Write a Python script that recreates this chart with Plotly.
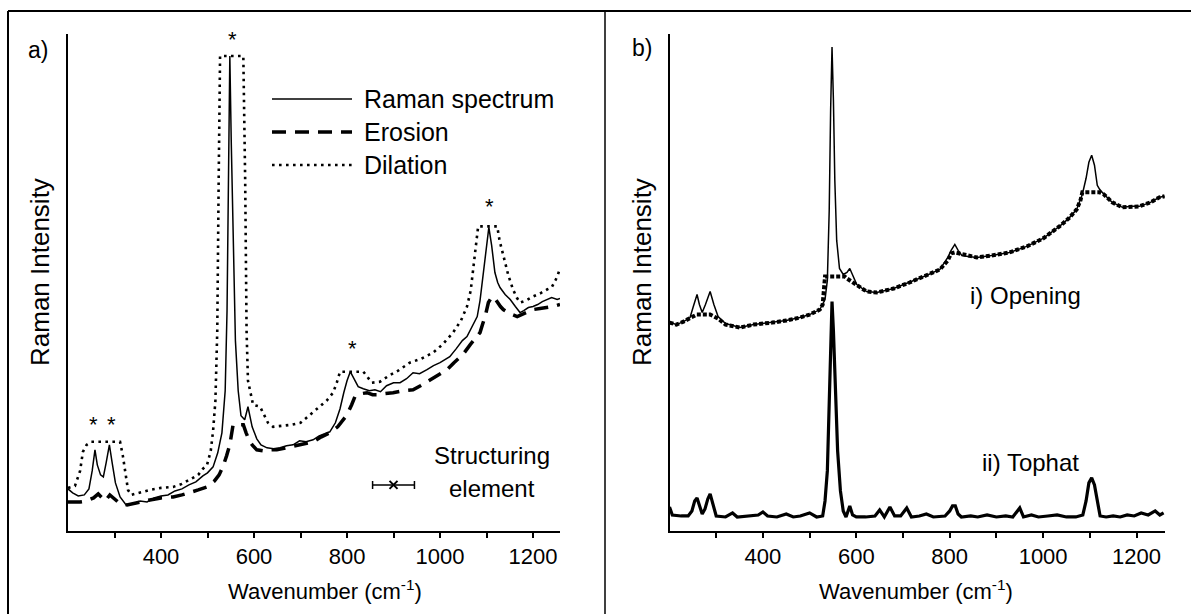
import plotly.graph_objects as go

# ---- panel a) : Raman spectrum with its erosion and dilation
raman_a_wn = [200, 210, 222, 235, 245, 252, 258, 263, 270, 276, 282, 289, 295, 302, 312, 325, 340, 355, 370, 385,
              400, 415, 430, 445, 460, 475, 490, 500, 512, 522, 531, 538, 542, 545, 548, 551, 555, 560, 566, 572,
              580, 587, 596, 606, 615, 628, 642, 656, 670, 684, 698, 712, 727, 740, 752, 763, 775, 785, 793, 800,
              807, 815, 824, 835, 848, 860, 872, 885, 900, 914, 928, 942, 956, 972, 986, 1000, 1010, 1021, 1035, 1048,
              1058, 1068, 1080, 1086, 1092, 1098, 1105, 1111, 1118, 1124, 1129, 1140, 1151, 1162, 1172, 1180, 1190, 1200, 1210, 1220,
              1230, 1240, 1252, 1258]
raman_a = [42, 38, 35, 36, 42, 60, 81, 66, 56, 54, 68, 86, 68, 48, 34, 26, 27, 30, 29, 33,
           35, 36, 40, 42, 46, 49, 55, 58, 64, 78, 98, 140, 220, 350, 474, 390, 310, 190, 140, 115,
           111, 124, 104, 92, 86, 83, 82, 83, 85, 86, 90, 89, 91, 95, 97, 99, 108, 122, 138, 150,
           159, 152, 144, 142, 140, 141, 139, 145, 148, 148, 152, 158, 157, 161, 165, 168, 171, 174, 182, 190,
           194, 203, 214, 230, 255, 280, 303, 285, 258, 248, 243, 236, 231, 224, 218, 220, 223, 224, 226, 229,
           231, 233, 231, 232]

dilation_wn = [200, 215, 226, 232, 240, 250, 270, 290, 312, 318, 323, 329, 336, 350, 376, 400, 426, 445, 462, 480,
               490, 499, 507, 512, 517, 521, 524, 527, 550, 577, 581, 584, 587, 598, 613, 622, 630, 641, 660, 680,
               700, 720, 742, 756, 770, 778, 785, 810, 835, 842, 853, 871, 890, 910, 935, 960, 985, 1005, 1028, 1045,
               1058, 1066, 1071, 1076, 1082, 1105, 1123, 1128, 1136, 1147, 1157, 1165, 1172, 1185, 1200, 1215, 1230, 1240, 1248, 1252,
               1258]
dilation = [43, 45, 60, 79, 86, 89, 89, 89, 89, 75, 58, 41, 36, 38, 41, 43, 44, 47, 51, 56,
            62, 66, 80, 100, 130, 200, 350, 474, 474, 474, 350, 200, 150, 126, 124, 115, 108, 104, 105, 106,
            108, 116, 124, 130, 138, 148, 159, 159, 159, 155, 148, 149, 155, 160, 168, 172, 178, 186, 198, 210,
            224, 240, 258, 280, 304, 304, 304, 290, 274, 255, 241, 233, 228, 230, 234, 237, 241, 243, 250, 254,
            262]

erosion_wn = [200, 215, 226, 240, 255, 265, 272, 280, 290, 298, 310, 327, 345, 360, 376, 400, 426, 445, 462, 480,
              499, 515, 525, 533, 541, 548, 555, 566, 577, 583, 590, 596, 606, 620, 635, 649, 670, 690, 710, 727,
              745, 763, 780, 791, 800, 810, 817, 830, 843, 855, 865, 880, 899, 920, 942, 958, 972, 990, 1015, 1030,
              1049, 1065, 1078, 1086, 1092, 1097, 1104, 1112, 1118, 1123, 1130, 1136, 1150, 1166, 1180, 1200, 1215, 1230, 1243, 1258]
erosion = [29, 29, 29, 30, 33, 37, 34, 30, 36, 33, 28, 26, 28, 30, 31, 33, 34, 36, 38, 41,
           44, 50, 56, 64, 75, 86, 106, 106, 106, 98, 90, 86, 81, 80, 81, 81, 83, 85, 87, 89,
           94, 98, 104, 111, 116, 126, 134, 137, 138, 136, 136, 137, 138, 140, 141, 145, 149, 154, 161, 168,
           176, 186, 194, 198, 207, 214, 228, 234, 232, 228, 224, 221, 217, 214, 217, 221, 222, 223, 224, 226]

# structuring element (centre and half width, cm-1) and peak markers
struct_wn = [900]
struct_int = [46]
struct_half = [45]
star_wn = [254, 294, 553, 812, 1107]
star_int = [106, 106, 491, 182, 324]

# ---- panel b) : opening and top-hat
raman_b_wn = [200, 215, 230, 244, 251, 259, 264, 270, 277, 287, 295, 304, 320, 351, 380, 420, 450, 479, 500, 522,
              533, 538, 542, 545, 548, 551, 554, 558, 564, 572, 580, 586, 592, 601, 622, 644, 680, 714, 750, 779,
              796, 803, 811, 818, 826, 840, 858, 890, 928, 965, 1000, 1035, 1055, 1072, 1084, 1092, 1098, 1104, 1110, 1116,
              1121, 1130, 1148, 1170, 1190, 1206, 1230, 1249, 1260]
raman_b = [208, 206, 209, 213, 224, 236, 226, 218, 226, 239, 226, 214, 207, 203, 206, 208, 210, 213, 216, 221,
           231, 250, 320, 420, 483, 430, 350, 290, 262, 256, 258, 262, 255, 246, 239, 238, 242, 248, 255, 261,
           273, 280, 286, 280, 275, 274, 273, 275, 278, 284, 292, 304, 312, 321, 336, 352, 368, 375, 365, 345,
           341, 336, 328, 323, 324, 324, 328, 333, 334]

opening_wn = [200, 215, 230, 244, 258, 272, 287, 304, 320, 351, 380, 420, 450, 479, 500, 522, 528, 533, 555, 575,
              580, 586, 601, 622, 644, 680, 714, 750, 779, 796, 803, 811, 820, 840, 858, 890, 928, 965, 1000, 1035,
              1055, 1072, 1080, 1084, 1121, 1130, 1148, 1170, 1190, 1206, 1230, 1249, 1260]
opening = [208, 206, 209, 213, 216, 216, 216, 212, 206, 203, 206, 208, 210, 213, 216, 221, 226, 254, 254, 254,
           252, 250, 246, 239, 238, 242, 248, 255, 261, 270, 277, 278, 277, 274, 273, 275, 278, 284, 292, 304,
           312, 321, 330, 338, 338, 336, 328, 323, 324, 324, 328, 333, 334]

tophat_wn = [200, 206, 225, 240, 248, 254, 259, 265, 270, 276, 282, 287, 293, 300, 320, 335, 345, 370, 390, 400,
             410, 430, 450, 465, 480, 500, 515, 528, 533, 538, 542, 545, 548, 551, 555, 560, 566, 572, 578, 586,
             592, 600, 620, 640, 650, 660, 672, 682, 695, 708, 718, 735, 750, 765, 790, 800, 806, 812, 818, 825,
             845, 860, 880, 900, 920, 935, 950, 958, 975, 990, 1010, 1030, 1050, 1070, 1085, 1092, 1098, 1104, 1110, 1116,
             1122, 1135, 1150, 1165, 1180, 1195, 1210, 1225, 1240, 1250, 1258]
tophat = [24, 16, 15, 15, 20, 30, 33, 24, 17, 22, 32, 37, 28, 15, 14, 18, 14, 15, 16, 19,
          15, 14, 17, 14, 15, 18, 14, 15, 30, 60, 130, 190, 229, 200, 140, 80, 40, 20, 14, 25,
          16, 14, 14, 15, 21, 14, 24, 15, 15, 23, 14, 15, 17, 14, 15, 20, 25, 25, 17, 14,
          15, 14, 16, 14, 15, 14, 23, 14, 16, 14, 15, 16, 14, 14, 16, 30, 48, 53, 46, 28,
          15, 14, 15, 14, 16, 15, 18, 16, 20, 16, 18]

# axis ticks: labelled every 200, plain ticks in between
label_ticks = [400, 600, 800, 1000, 1200]
minor_ticks = [300, 500, 700, 900, 1100]

W, H = 1191, 614
FONT = "Liberation Sans"


def px(x):
    return x / W


def py(y):
    return 1 - y / H


fig = go.Figure()

# panel a traces
fig.add_trace(go.Scatter(x=dilation_wn, y=dilation, mode="lines", xaxis="x", yaxis="y",
                         line=dict(color="black", width=2.6, dash="2.6px,4.4px")))
fig.add_trace(go.Scatter(x=erosion_wn, y=erosion, mode="lines", xaxis="x", yaxis="y",
                         line=dict(color="black", width=3.5, dash="14px,9px")))
fig.add_trace(go.Scatter(x=raman_a_wn, y=raman_a, mode="lines", xaxis="x", yaxis="y",
                         line=dict(color="black", width=1.5)))
fig.add_trace(go.Scatter(x=struct_wn, y=struct_int, mode="markers", xaxis="x", yaxis="y",
                         marker=dict(symbol="x-thin", size=8, line=dict(color="black", width=2)),
                         error_x=dict(type="data", array=struct_half, color="black", thickness=1.5, width=4)))

# panel b traces
fig.add_trace(go.Scatter(x=opening_wn, y=opening, mode="lines", xaxis="x2", yaxis="y2",
                         line=dict(color="black", width=4, dash="4px,2px")))
fig.add_trace(go.Scatter(x=raman_b_wn, y=raman_b, mode="lines", xaxis="x2", yaxis="y2",
                         line=dict(color="black", width=1.5)))
fig.add_trace(go.Scatter(x=tophat_wn, y=tophat, mode="lines", xaxis="x2", yaxis="y2",
                         line=dict(color="black", width=3.2)))

xax = dict(showline=True, linecolor="black", linewidth=2, ticks="outside", ticklen=5, tickwidth=1.5,
           tickcolor="black", tickmode="array", tickvals=label_ticks, showgrid=False, zeroline=False,
           automargin=False,
           minor=dict(ticks="outside", ticklen=5, tickwidth=1.5, tickcolor="black", tickmode="array",
                      tickvals=minor_ticks, showgrid=False),
           tickfont=dict(family=FONT, size=22, color="black"))
yax = dict(showline=True, linecolor="black", linewidth=2, showticklabels=False, ticks="", showgrid=False,
           zeroline=False, automargin=False, range=[0, 496], domain=[py(531), py(34)])

fig.update_layout(
    width=W, height=H, margin=dict(l=0, r=0, t=0, b=0, autoexpand=False),
    paper_bgcolor="white", plot_bgcolor="white", showlegend=False,
    font=dict(family=FONT, size=22, color="black"),
    xaxis=dict(xax, domain=[px(68), px(560)], range=[200, 1258]),
    yaxis=dict(yax, anchor="x"),
    xaxis2=dict(xax, domain=[px(669.5), px(1165)], range=[200, 1261], anchor="y2"),
    yaxis2=dict(yax, anchor="x2"),
)

# frame and divider
frame = dict(color="black", width=2)
fig.add_shape(type="line", xref="paper", yref="paper", x0=px(8), x1=1, y0=py(11), y1=py(11), line=frame)
fig.add_shape(type="line", xref="paper", yref="paper", x0=px(8), x1=px(8), y0=py(11), y1=0, line=frame)
fig.add_shape(type="line", xref="paper", yref="paper", x0=px(605), x1=px(605), y0=py(11), y1=0,
              line=dict(color="black", width=1.5))

# legend of panel a
legend_items = ["Raman spectrum", "Erosion", "Dilation"]
legend_styles = [dict(width=1.5), dict(width=3.5, dash="14px,9px"), dict(width=2.6, dash="2.6px,4.4px")]
for i, (name, st) in enumerate(zip(legend_items, legend_styles)):
    yy = 99 + i * 33
    fig.add_shape(type="line", xref="paper", yref="paper", x0=px(272), x1=px(352), y0=py(yy), y1=py(yy),
                  line=dict(color="black", **st))
    fig.add_annotation(xref="paper", yref="paper", x=px(362), y=py(yy), text=name, showarrow=False,
                       xanchor="left", yanchor="middle", font=dict(size=25))

# peak asterisks
for w, v in zip(star_wn, star_int):
    fig.add_annotation(x=w, y=v, xref="x", yref="y", text="*", showarrow=False, yanchor="middle",
                       font=dict(size=22))

texts = [
    ("a)", 38, 50, 0, "center", 23),
    ("b)", 642, 48, 0, "center", 23),
    ("Raman Intensity", 40, 272, -90, "center", 26),
    ("Raman Intensity", 642, 272, -90, "center", 26),
    ("Wavenumber (cm<sup>-1</sup>)", 325, 590, 0, "center", 22),
    ("Wavenumber (cm<sup>-1</sup>)", 916, 590, 0, "center", 22),
    ("Structuring", 492, 455, 0, "center", 24),
    ("element", 492, 488, 0, "center", 24),
    ("i) Opening", 1025, 295, 0, "center", 24),
    ("ii) Tophat", 1030, 462, 0, "center", 24),
]
for t, x, y, ang, anc, sz in texts:
    fig.add_annotation(xref="paper", yref="paper", x=px(x), y=py(y), text=t, showarrow=False,
                       textangle=ang, xanchor=anc, yanchor="middle", font=dict(size=sz))

# the page body margin would shift the figure by 8 px, remove it
fig.write_html("out.html", config={"displayModeBar": False},
               post_script="document.body.style.margin='0';")
